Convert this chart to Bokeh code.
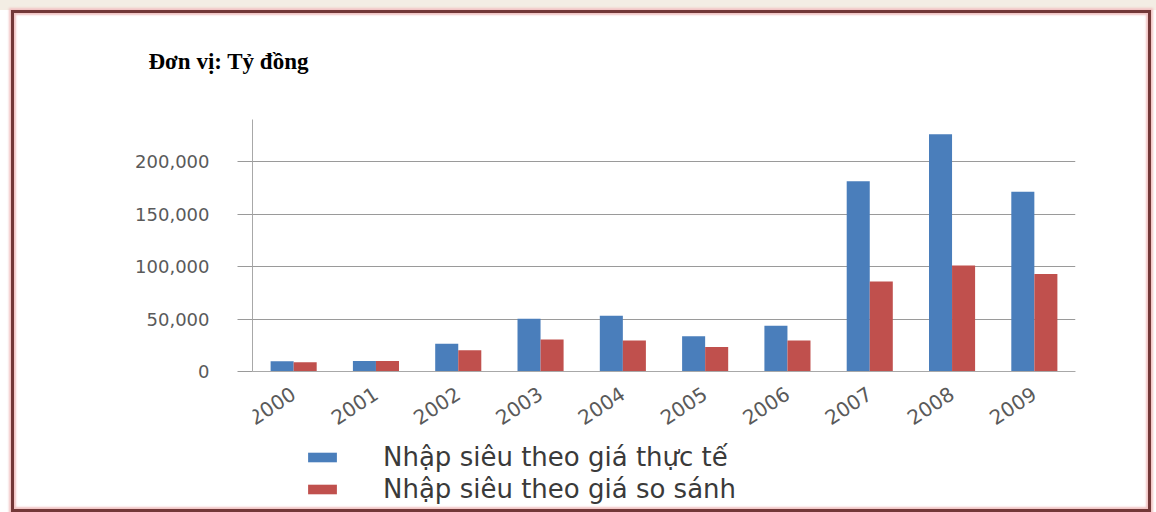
from bokeh.plotting import figure
from bokeh.models import (FactorRange, Range1d, Legend, LegendItem,
                          NumeralTickFormatter, FixedTicker, InlineStyleSheet)
from bokeh.transform import dodge
from bokeh.embed import file_html
from bokeh.resources import INLINE

# Nhập siêu (tỷ đồng), 2000-2009
years = ["2000", "2001", "2002", "2003", "2004", "2005", "2006", "2007", "2008", "2009"]
thuc_te = [10200, 10500, 26700, 50600, 53300, 34000, 43800, 181300, 226000, 171400]
so_sanh = [9200, 10500, 20700, 30900, 29800, 23800, 29800, 86000, 101300, 93000]
y_ticks = [0, 50000, 100000, 150000, 200000]

series_names = ["Nhập siêu theo giá thực tế", "Nhập siêu theo giá so sánh"]
unit_text = "Đơn vị: Tỷ đồng"
BLUE = "#4a7ebb"
RED = "#c0504d"
TICK_GREY = "#5a5a5a"

# page frame: beige strip on top and a dark red border with a soft pink halo
frame_css = InlineStyleSheet(css="""
:host::before {
  content: ""; position: absolute; left: 0; top: 0; width: 100%; height: 10px;
  background: #f3ede4; z-index: 10; pointer-events: none;
}
:host::after {
  content: ""; position: absolute; left: 11px; top: 10px; width: 1134px; height: 496px;
  border: 3px solid #733838; z-index: 10; pointer-events: none;
  box-shadow: 0 0 2px 2px #f2c4c4, inset 0 0 2px 2px #f2c4c4;
}
""")

# the plot area runs down to the legend; the value axis stops at zero
Y_TOP = 240000
Y_BOTTOM = -130800

p = figure(width=1156, height=512, output_backend="svg", toolbar_location=None,
           x_range=FactorRange(*years), y_range=Range1d(Y_BOTTOM, Y_TOP),
           min_border_left=252, min_border_right=81,
           min_border_top=118, min_border_bottom=3,
           stylesheets=[frame_css])
p.background_fill_color = "white"
p.border_fill_color = "white"
p.outline_line_color = None

p.title.text = unit_text
p.title.text_font = "Liberation Serif"
p.title.text_font_style = "bold"
p.title.text_font_size = "23px"
p.title.text_color = "black"
p.title.offset = -104
p.title.standoff = 92

src = dict(years=years, thuc_te=thuc_te, so_sanh=so_sanh)
r1 = p.vbar(x=dodge("years", -0.14, range=p.x_range), top="thuc_te", width=0.28,
            source=src, fill_color=BLUE, line_color=None)
r2 = p.vbar(x=dodge("years", 0.14, range=p.x_range), top="so_sanh", width=0.28,
            source=src, fill_color=RED, line_color=None)

# value axis
p.yaxis.bounds = (0, Y_TOP)
p.yaxis.ticker = FixedTicker(ticks=y_ticks)
p.yaxis.formatter = NumeralTickFormatter(format="0,0")
p.yaxis.major_tick_out = 15
p.yaxis.major_tick_in = 0
p.yaxis.minor_tick_line_color = None
p.yaxis.major_tick_line_color = "#9a9a9a"
p.yaxis.axis_line_color = "#a8a8a8"
p.yaxis.major_label_standoff = 28
p.yaxis.major_label_text_font = "DejaVu Sans"
p.yaxis.major_label_text_font_size = "18px"
p.yaxis.major_label_text_color = TICK_GREY

# category axis sits on the zero line
p.xaxis.fixed_location = 0
p.xaxis.major_label_orientation = 0.58
p.xaxis.major_tick_line_color = None
p.xaxis.axis_line_color = "#a8a8a8"
p.xaxis.major_label_text_font = "DejaVu Sans"
p.xaxis.major_label_text_font_size = "20px"
p.xaxis.major_label_text_color = TICK_GREY
p.xaxis.major_label_standoff = 14

p.xgrid.grid_line_color = None
p.ygrid.ticker = FixedTicker(ticks=y_ticks)
p.ygrid.grid_line_color = "#9a9a9a"
p.ygrid.grid_line_width = 1

# legend under the axis labels
legend = Legend(items=[LegendItem(label=series_names[0], renderers=[r1]),
                       LegendItem(label=series_names[1], renderers=[r2])],
                location=(52, 5), orientation="vertical",
                glyph_width=36, glyph_height=12, label_standoff=43,
                spacing=2, padding=0, margin=0,
                label_text_font="DejaVu Sans", label_text_font_size="26px",
                label_text_color="#3a3a3a", border_line_color=None,
                background_fill_alpha=0)
p.add_layout(legend)

open("out.html", "w").write(file_html(p, INLINE))
